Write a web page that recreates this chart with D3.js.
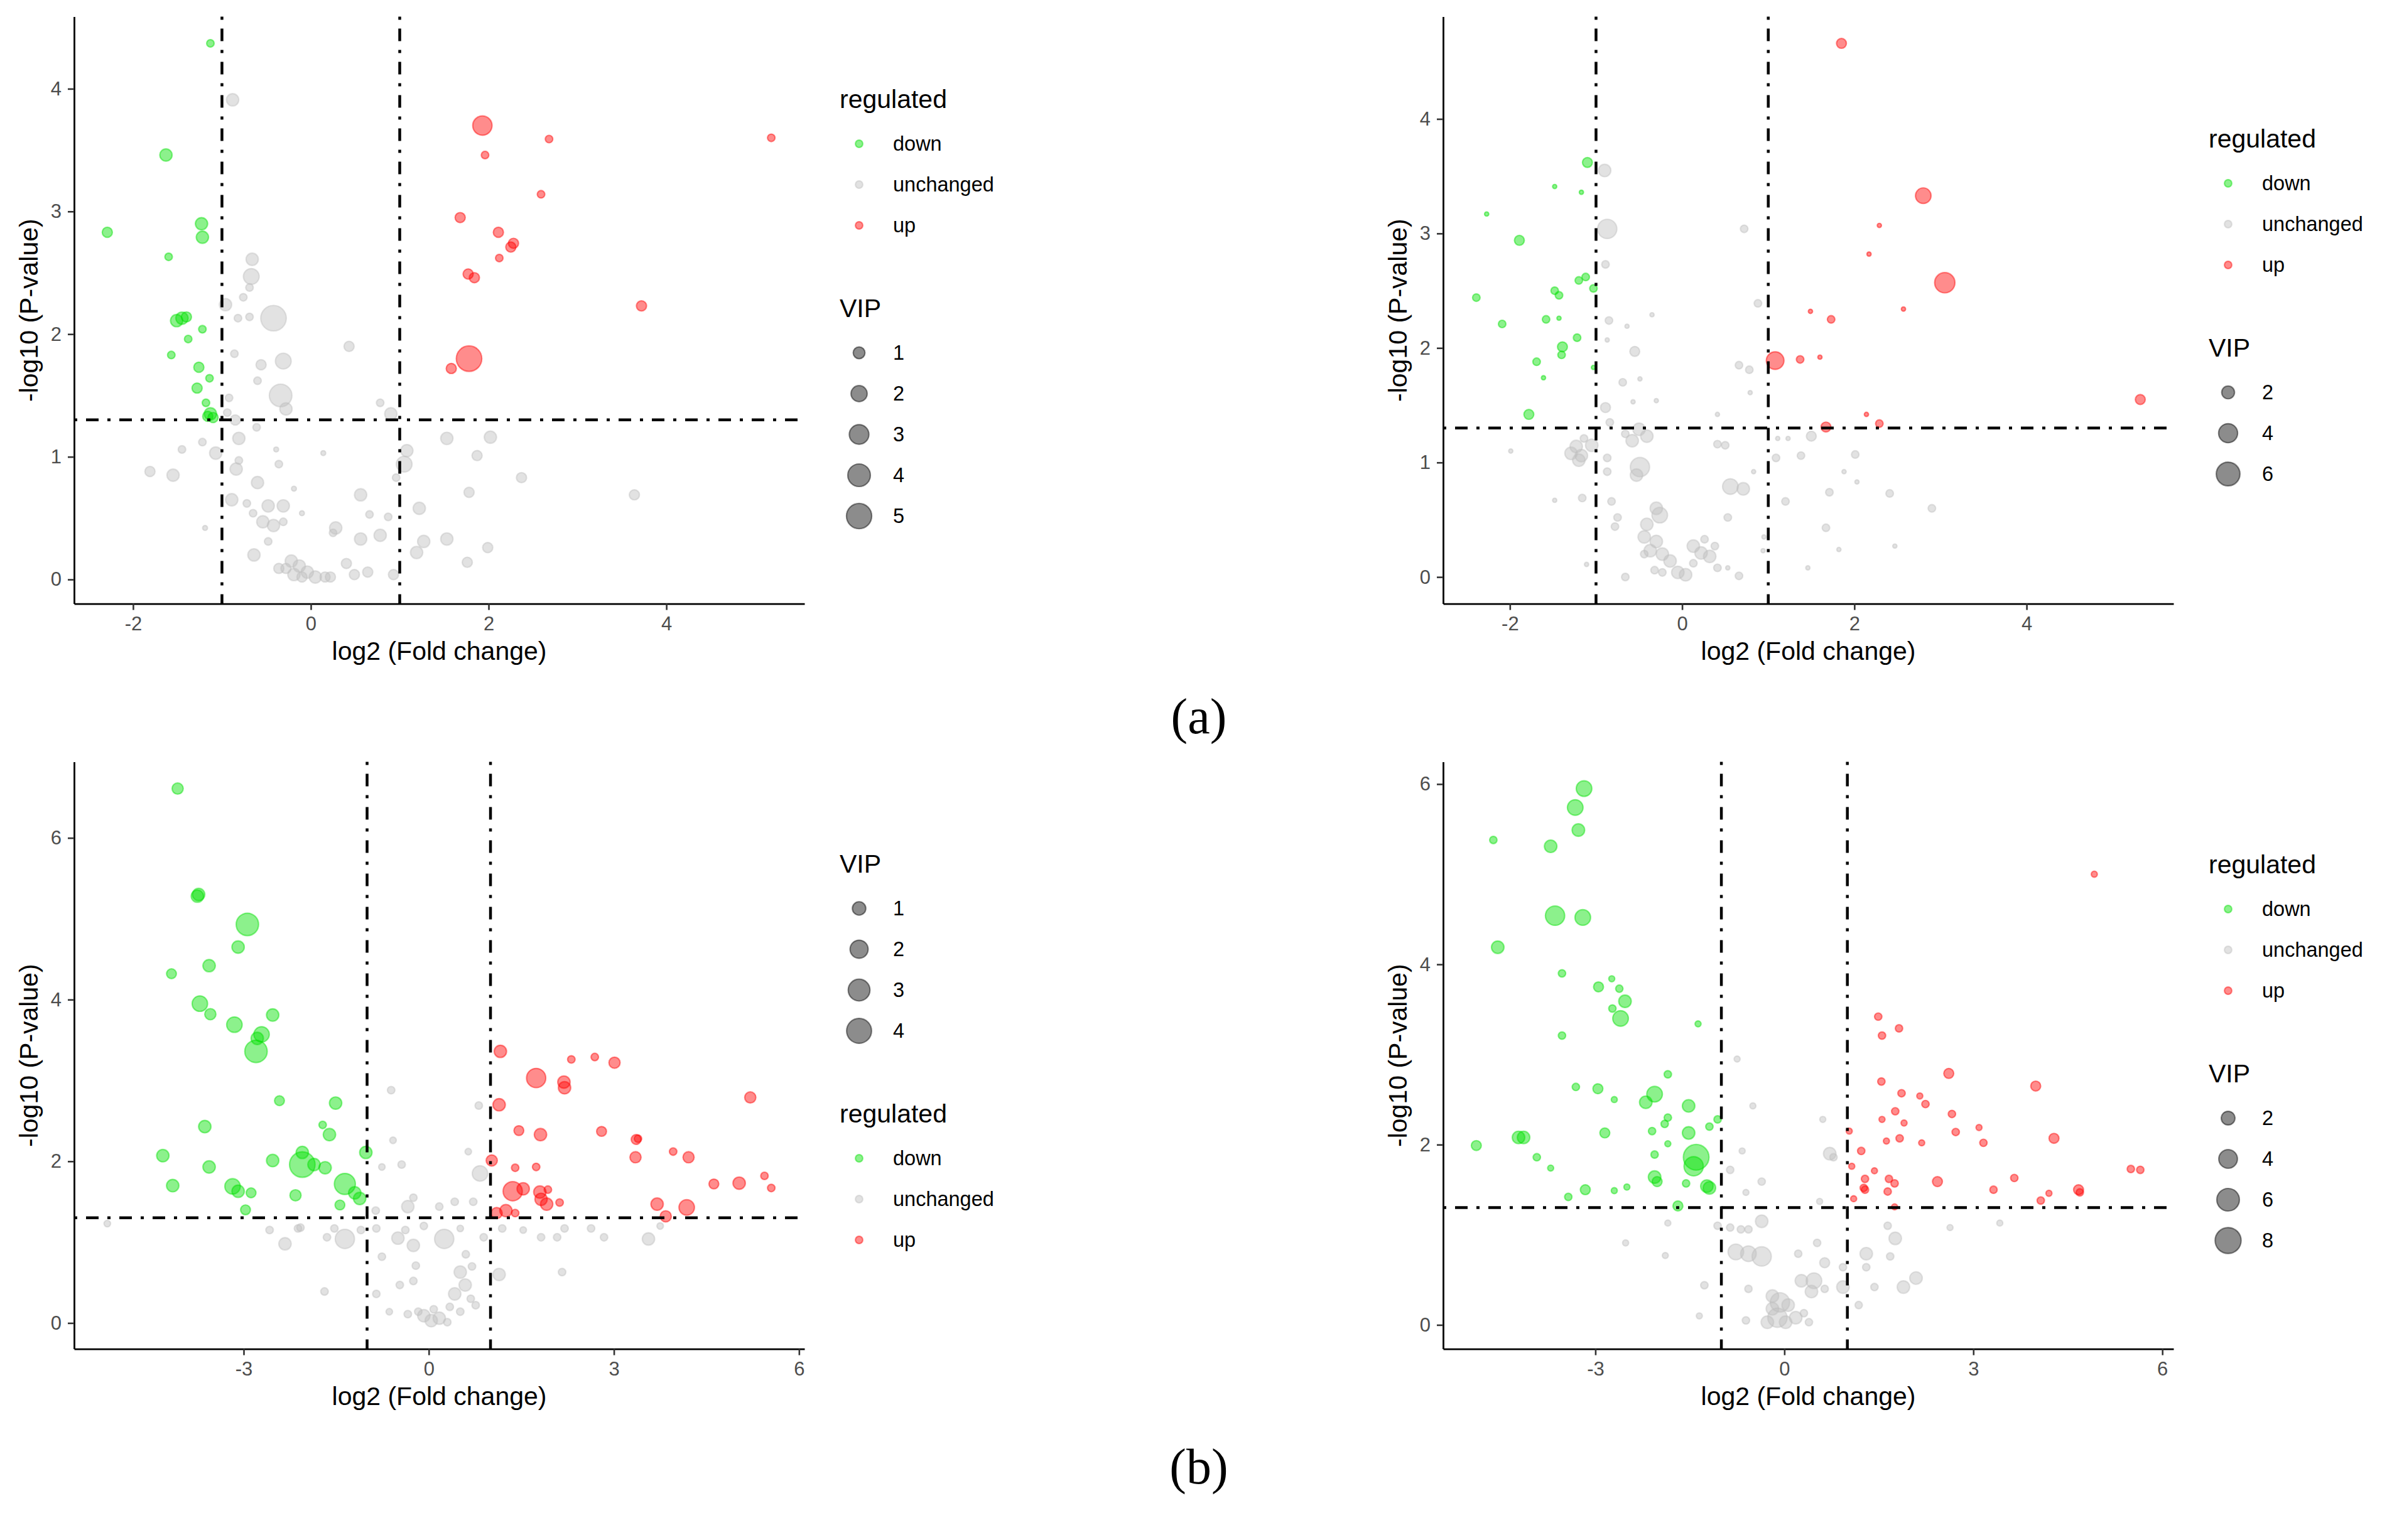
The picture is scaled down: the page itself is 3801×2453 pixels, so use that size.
<!DOCTYPE html>
<html>
<head>
<meta charset="utf-8">
<title>Volcano plots</title>
<script src="https://cdn.jsdelivr.net/npm/d3@7"></script>
<style>
  body { margin: 0; background: #fff; }
  svg text { font-family: "Liberation Sans", Arial, sans-serif; }
</style>
</head>
<body>
<svg id="mainsvg" width="3801" height="2453"></svg>
<script>
// each point: [log2 fold change, -log10 p, VIP]

// (a) left
const a1Down = [[-1.13,4.37,0.3],[-1.63,3.46,1.1],[-2.29,2.83,0.7],[-1.23,2.90,1.1],[-1.22,2.79,1.1],[-1.60,2.63,0.3],
  [-1.45,2.13,1.1],[-1.51,2.11,1.1],[-1.40,2.14,0.7],[-1.22,2.04,0.3],[-1.38,1.96,0.3],[-1.57,1.83,0.3],[-1.26,1.73,0.7],
  [-1.14,1.64,0.3],[-1.28,1.56,0.7],[-1.18,1.44,0.3],[-1.13,1.35,1.1],[-1.16,1.33,0.7],[-1.10,1.32,0.7]];
const a1Up = [[1.93,3.70,2.9],[2.68,3.59,0.3],[5.18,3.60,0.3],[1.96,3.46,0.3],[2.59,3.14,0.3],[1.68,2.95,0.7],[2.11,2.83,0.7],
  [2.28,2.74,0.7],[2.25,2.71,0.7],[2.12,2.62,0.3],[1.77,2.49,0.7],[1.84,2.46,0.7],[3.72,2.23,0.7],[1.78,1.80,5.1],[1.58,1.72,0.7]];
const a1Unchanged = [[-0.88,3.91,1.1],[-0.66,2.61,1.1],[-0.67,2.47,1.9],[-0.69,2.38,0.3],[-0.76,2.30,0.3],[-0.96,2.24,1.1],
  [-0.42,2.13,5.1],[-0.69,2.14,0.3],[-0.82,2.13,0.3],[0.43,1.90,0.7],[-0.31,1.78,1.9],[-0.56,1.75,0.7],[-0.86,1.84,0.3],
  [-0.60,1.62,0.3],[-0.34,1.50,4.0],[-0.28,1.39,1.1],[-0.92,1.48,0.3],[0.78,1.44,0.3],[0.90,1.35,1.1],[-0.61,1.24,0.3],
  [-0.81,1.15,1.1],[-1.22,1.12,0.3],[-1.45,1.06,0.3],[-1.07,1.03,1.1],[-0.81,0.97,0.3],[-0.84,0.90,1.1],[-0.39,1.06,0.0],
  [-0.36,0.94,0.3],[0.14,1.03,0.0],[-1.81,0.88,0.7],[-1.55,0.85,1.1],[1.08,1.05,1.1],[1.05,0.94,1.9],[0.96,0.83,0.3],
  [1.53,1.15,1.1],[2.02,1.16,1.1],[1.87,1.01,0.7],[2.37,0.83,0.7],[3.64,0.69,0.7],[-0.60,0.79,1.1],[-0.19,0.74,0.0],
  [0.56,0.69,1.1],[1.78,0.71,0.7],[-0.89,0.65,1.1],[-0.72,0.62,0.3],[-0.48,0.60,1.1],[-0.31,0.60,1.1],[-0.10,0.54,0.0],
  [-0.65,0.54,0.3],[-0.54,0.47,1.1],[-0.42,0.44,1.1],[-0.31,0.47,0.3],[1.22,0.58,1.1],[1.27,0.31,1.1],[1.19,0.22,1.1],
  [0.28,0.42,1.1],[0.25,0.38,0.3],[0.56,0.33,1.1],[0.78,0.36,1.1],[0.66,0.53,0.3],[0.87,0.51,0.3],[1.53,0.33,1.1],
  [1.99,0.26,0.7],[1.76,0.14,0.7],[-1.19,0.42,0.0],[-0.64,0.20,1.1],[-0.48,0.31,0.3],[-0.36,0.09,0.7],[-0.22,0.15,1.1],
  [-0.13,0.11,1.1],[-0.04,0.06,1.1],[0.05,0.02,1.1],[0.16,0.02,0.7],[-0.19,0.04,1.1],[-0.28,0.09,0.7],[0.40,0.13,0.7],
  [0.49,0.04,0.7],[0.64,0.06,0.7],[0.93,0.04,0.7],[0.22,0.02,0.7],[-0.10,0.02,0.7],[-0.94,1.36,0.3],[-0.85,1.30,0.7]];

// (a) right
const a2Down = [[-1.10,3.62,1.3],[-1.48,3.41,0.4],[-1.17,3.36,0.4],[-2.27,3.17,0.4],[-1.89,2.94,1.3],[-1.12,2.62,0.85],
  [-1.20,2.59,0.85],[-1.03,2.52,0.85],[-1.48,2.50,0.85],[-1.43,2.46,0.85],[-2.39,2.44,0.85],[-1.58,2.25,0.85],[-1.43,2.26,0.4],
  [-2.09,2.21,0.85],[-1.22,2.09,0.85],[-1.39,2.01,1.3],[-1.40,1.94,0.85],[-1.03,1.83,0.4],[-1.69,1.88,0.85],[-1.61,1.74,0.4],
  [-1.78,1.42,1.3]];
const a2Up = [[1.85,4.66,1.3],[2.80,3.33,2.8],[2.29,3.07,0.4],[2.17,2.82,0.4],[3.05,2.57,4.5],[2.57,2.34,0.4],[1.49,2.32,0.4],
  [1.73,2.25,0.85],[1.08,1.89,3.5],[1.37,1.90,0.85],[1.60,1.92,0.4],[5.32,1.55,1.3],[2.14,1.42,0.4],[2.29,1.34,0.85],[1.67,1.31,1.3]];
const a2Unchanged = [[-0.90,3.55,1.9],[-0.87,3.04,4.1],[0.72,3.04,0.85],[-0.89,2.73,0.85],[0.88,2.39,0.85],[-0.35,2.29,0.4],
  [-0.85,2.24,0.85],[-0.64,2.19,0.4],[-0.87,2.07,0.4],[-0.55,1.97,1.3],[0.66,1.85,0.85],[0.78,1.81,0.85],[-0.49,1.73,0.4],
  [-0.69,1.70,0.85],[0.79,1.61,0.4],[-0.57,1.53,0.4],[-0.30,1.54,0.4],[-0.89,1.48,1.3],[0.41,1.42,0.4],[-0.84,1.35,0.85],
  [-0.50,1.29,1.9],[-0.41,1.23,1.9],[-0.58,1.19,1.9],[-0.66,1.25,0.85],[-1.14,1.21,0.85],[-1.23,1.14,1.9],[-1.29,1.08,1.9],
  [-1.17,1.06,1.9],[-1.05,1.15,1.9],[-1.20,1.02,1.9],[-1.99,1.10,0.4],[-0.87,1.04,0.85],[0.41,1.16,0.85],[0.50,1.15,0.85],
  [1.11,1.21,0.4],[1.23,1.21,0.4],[1.50,1.23,1.3],[1.09,1.04,0.85],[1.38,1.06,0.85],[2.01,1.07,0.85],[-0.49,0.96,4.1],
  [-0.53,0.89,1.9],[-0.87,0.92,0.85],[0.83,0.92,0.4],[1.88,0.92,0.4],[0.56,0.79,2.8],[0.71,0.77,1.9],[2.03,0.83,0.4],
  [-1.48,0.67,0.4],[-1.16,0.69,0.85],[-0.82,0.66,0.85],[1.71,0.74,0.85],[2.41,0.73,0.85],[1.20,0.66,0.85],[-0.30,0.60,1.9],
  [-0.26,0.54,2.8],[-0.41,0.46,1.9],[-0.75,0.52,0.85],[2.90,0.60,0.85],[0.53,0.52,0.85],[-0.78,0.44,0.85],[-0.44,0.35,1.9],
  [-0.37,0.23,1.9],[-0.30,0.31,1.9],[-0.44,0.20,0.85],[-0.23,0.20,1.9],[-0.14,0.14,1.9],[-0.05,0.04,1.9],[0.04,0.02,1.9],
  [-0.23,0.04,0.85],[-0.32,0.06,0.85],[0.13,0.27,1.9],[0.22,0.21,1.9],[0.13,0.12,0.85],[0.32,0.18,1.9],[0.38,0.27,0.85],
  [0.26,0.33,0.85],[0.41,0.08,0.85],[0.66,0.01,0.85],[0.53,0.08,0.4],[-0.66,0.00,0.85],[-1.11,0.11,0.4],[1.67,0.43,0.85],
  [1.82,0.24,0.4],[2.47,0.27,0.4],[1.46,0.08,0.4],[0.95,0.35,0.4],[0.94,0.23,0.4]];

// (b) left
const b1Down = [[-4.07,6.61,0.6],[-3.73,5.30,0.8],[-3.75,5.28,0.8],[-2.94,4.93,3.2],[-3.09,4.65,0.8],[-3.56,4.42,0.8],
  [-4.17,4.32,0.4],[-3.71,3.95,1.4],[-3.54,3.82,0.6],[-2.53,3.81,0.8],[-3.15,3.69,1.4],[-2.71,3.57,1.4],[-2.78,3.52,0.8],
  [-2.80,3.36,3.2],[-2.42,2.75,0.4],[-1.51,2.72,0.8],[-3.63,2.43,0.8],[-1.72,2.45,0.1],[-1.61,2.33,0.8],[-1.02,2.11,0.8],
  [-4.31,2.07,0.8],[-2.53,2.01,0.8],[-2.05,2.11,0.8],[-2.05,1.96,4.2],[-1.86,1.96,0.8],[-1.68,1.92,0.8],[-3.56,1.93,0.8],
  [-1.36,1.72,2.8],[-1.20,1.61,0.8],[-1.12,1.54,0.8],[-4.15,1.70,0.8],[-3.18,1.69,1.4],[-3.09,1.63,0.8],[-2.88,1.61,0.4],
  [-2.16,1.58,0.6],[-1.44,1.46,0.4],[-2.97,1.40,0.4]];
const b1Up = [[1.16,3.36,0.8],[2.31,3.26,0.1],[2.69,3.29,0.1],[3.01,3.22,0.6],[1.74,3.03,2.3],[2.19,2.98,0.8],[2.20,2.91,0.8],
  [1.14,2.70,0.8],[5.21,2.79,0.6],[1.46,2.38,0.4],[1.81,2.33,0.8],[2.80,2.37,0.4],[3.36,2.27,0.4],[3.39,2.28,0.1],[3.96,2.12,0.1],
  [3.35,2.05,0.6],[4.21,2.05,0.6],[1.02,2.01,0.6],[1.40,1.92,0.1],[1.74,1.93,0.1],[4.62,1.72,0.4],[5.03,1.73,0.8],[5.44,1.82,0.1],
  [5.55,1.67,0.1],[1.36,1.63,2.3],[1.53,1.66,0.8],[1.80,1.62,0.8],[1.93,1.65,0.1],[1.82,1.53,0.8],[1.91,1.47,0.8],[2.12,1.49,0.1],
  [1.25,1.39,0.8],[1.10,1.36,0.6],[1.40,1.36,0.1],[3.70,1.47,0.8],[4.18,1.43,1.4],[3.84,1.32,0.6]];
const b1Unchanged = [[-0.61,2.88,0.1],[0.81,2.69,0.1],[-0.58,2.26,0.0],[0.64,2.12,0.0],[-0.44,1.96,0.1],[0.83,1.85,1.4],
  [-0.76,1.93,0.0],[-0.25,1.55,0.1],[-0.34,1.44,0.8],[0.17,1.44,0.1],[0.42,1.50,0.1],[0.72,1.50,0.1],[-0.86,1.39,0.1],
  [-2.58,1.15,0.1],[-2.33,0.98,0.8],[-2.08,1.18,0.1],[-1.65,1.06,0.1],[-1.36,1.04,2.3],[-1.10,1.15,0.1],[-0.85,1.17,0.1],
  [-0.38,1.15,0.1],[-0.25,0.96,0.8],[-0.08,1.20,0.1],[0.25,1.04,2.3],[0.51,1.17,0.0],[0.89,1.06,0.1],[1.19,1.17,0.1],
  [1.53,1.15,0.0],[1.82,1.06,0.1],[2.08,1.06,0.1],[2.20,1.17,0.1],[2.63,1.17,0.1],[2.84,1.06,0.1],[3.56,1.04,0.8],
  [3.75,1.20,0.0],[-5.21,1.23,0.0],[-2.12,1.17,0.1],[-1.53,1.17,0.1],[2.16,0.63,0.1],[1.14,0.60,0.8],[0.51,0.63,0.8],
  [0.59,0.47,0.8],[0.42,0.36,0.8],[0.68,0.30,0.1],[0.76,0.22,0.1],[0.34,0.20,0.1],[-0.25,0.52,0.1],[-0.47,0.47,0.1],
  [-0.85,0.36,0.1],[-1.69,0.39,0.1],[-0.21,0.71,0.1],[-0.76,0.82,0.1],[-0.17,0.14,0.1],[-0.08,0.09,0.8],[0.04,0.03,0.8],
  [0.17,0.06,0.8],[0.30,0.01,0.1],[-0.34,0.11,0.1],[0.08,0.17,0.1],[0.51,0.14,0.1],[-0.64,0.14,0.0],[0.60,0.85,0.1],
  [0.70,0.70,0.1],[-0.50,1.05,0.8]];

// (b) right
const b2Down = [[-3.18,5.95,2.7],[-3.32,5.74,2.7],[-3.27,5.49,1.6],[-4.62,5.38,0.25],[-3.71,5.31,1.6],[-3.64,4.54,4.3],
  [-3.20,4.52,2.7],[-4.55,4.19,1.6],[-3.53,3.90,0.25],[-2.95,3.75,0.85],[-2.74,3.84,0.0],[-2.62,3.73,0.25],[-2.53,3.59,1.6],
  [-2.73,3.51,0.25],[-2.60,3.40,2.7],[-1.37,3.34,0.0],[-3.53,3.21,0.25],[-1.85,2.78,0.25],[-3.31,2.64,0.25],[-2.96,2.62,0.85],
  [-2.06,2.56,2.7],[-2.20,2.47,1.6],[-2.70,2.50,0.0],[-1.52,2.43,1.6],[-1.85,2.30,0.25],[-1.06,2.28,0.25],[-1.90,2.23,0.25],
  [-1.19,2.20,0.25],[-2.10,2.15,0.25],[-2.85,2.13,0.85],[-1.52,2.13,1.6],[-4.22,2.08,1.6],[-4.14,2.08,1.6],[-4.89,1.99,0.85],
  [-1.85,2.01,0.0],[-1.40,1.86,7.8],[-1.44,1.76,4.3],[-3.93,1.86,0.25],[-2.06,1.89,0.25],[-3.71,1.74,0.0],[-2.06,1.64,1.6],
  [-2.02,1.59,0.85],[-1.56,1.57,0.25],[-1.23,1.54,1.6],[-1.19,1.52,1.6],[-3.16,1.50,0.85],[-2.70,1.49,0.0],[-2.50,1.53,0.0],
  [-3.43,1.42,0.25],[-1.69,1.32,0.85]];
const b2Up = [[4.92,5.00,0.0],[1.49,3.42,0.25],[1.55,3.21,0.25],[1.82,3.29,0.25],[2.61,2.79,0.85],[1.54,2.70,0.25],
  [3.99,2.65,0.85],[1.86,2.57,0.25],[2.15,2.54,0.0],[2.24,2.45,0.25],[1.76,2.37,0.25],[2.66,2.34,0.25],[1.55,2.28,0.0],
  [1.90,2.24,0.0],[1.03,2.15,0.0],[2.72,2.14,0.25],[3.09,2.19,0.0],[1.83,2.07,0.25],[1.62,2.04,0.0],[2.18,2.02,0.0],
  [3.16,2.02,0.25],[4.28,2.07,0.85],[1.22,1.93,0.25],[1.07,1.76,0.0],[1.43,1.71,0.0],[5.50,1.73,0.25],[5.65,1.72,0.25],
  [1.28,1.62,0.25],[1.66,1.62,0.25],[1.75,1.57,0.25],[2.43,1.59,0.85],[3.65,1.63,0.25],[1.26,1.52,0.25],[1.28,1.50,0.25],
  [1.64,1.48,0.25],[3.32,1.50,0.25],[4.67,1.50,0.85],[4.69,1.47,0.25],[4.20,1.46,0.0],[4.07,1.38,0.25],[1.10,1.40,0.0],
  [1.75,1.31,0.0]];
const b2Unchanged = [[-0.75,2.95,0.0],[-0.50,2.43,0.0],[0.61,2.28,0.0],[-0.67,1.93,0.0],[0.72,1.90,1.6],[0.78,1.86,0.25],
  [-0.86,1.72,0.25],[-0.36,1.59,0.25],[-0.61,1.47,0.0],[0.56,1.37,0.0],[2.63,1.08,0.0],[3.42,1.13,0.0],[-2.52,0.91,0.0],
  [-1.89,0.77,0.0],[-1.85,1.13,0.0],[-1.06,1.10,0.25],[-0.86,1.08,0.25],[-0.69,1.06,0.25],[-0.57,1.06,0.25],[-0.36,1.15,1.6],
  [1.64,1.10,0.25],[1.76,0.96,1.6],[-0.77,0.81,2.7],[-0.57,0.79,2.7],[-0.36,0.76,4.3],[0.22,0.79,0.25],[0.52,0.91,0.25],
  [1.30,0.79,1.6],[1.68,0.76,0.25],[0.64,0.69,0.85],[0.93,0.64,0.25],[1.30,0.64,0.25],[0.27,0.49,1.6],[0.47,0.49,2.7],
  [0.43,0.37,1.6],[0.64,0.40,0.25],[2.09,0.52,1.6],[1.89,0.42,1.6],[1.43,0.42,0.25],[0.93,0.42,1.6],[-1.27,0.44,0.25],
  [-0.57,0.40,0.25],[-0.19,0.32,1.6],[-0.07,0.25,4.3],[-0.19,0.18,1.6],[0.06,0.22,1.6],[-0.11,0.08,4.3],[0.02,0.03,1.6],
  [0.18,0.08,1.6],[0.31,0.13,0.25],[0.39,0.03,0.25],[-0.27,0.03,1.6],[1.18,0.22,0.25],[-1.35,0.10,0.0],[-0.61,0.05,0.25]];

// tick labels and legend breaks
const xTicksA = [-2, 0, 2, 4];
const yTicksA = [0, 1, 2, 3, 4];
const xTicksB = [-3, 0, 3, 6];
const yTicksB = [0, 2, 4, 6];
const vipA1 = [1, 2, 3, 4, 5];
const vipA2 = [2, 4, 6];
const vipB1 = [1, 2, 3, 4];
const vipB2 = [2, 4, 6, 8];
const regulated = ['down', 'unchanged', 'up'];
const captions = ['(a)', '(b)'];

const regColor = { down: '#00e000', unchanged: '#bebebe', up: '#ff0000' };
const ALPHA = 0.45;
const FC_CUT = 1, P_CUT = -Math.log10(0.05);

const svg = d3.select('#mainsvg');
svg.append('rect').attr('width', 3801).attr('height', 2453).attr('fill', '#fff');

const panels = [
  { down: a1Down, unchanged: a1Unchanged, up: a1Up, xt: xTicksA, yt: yTicksA, vip: vipA1,
    left: 118, top: 26.6, legendTop: 172, order: ['regulated', 'VIP'], area: [[0, 5.2], [25, 467]] },
  { down: a2Down, unchanged: a2Unchanged, up: a2Up, xt: xTicksA, yt: yTicksA, vip: vipA2,
    left: 2298, top: 26.6, legendTop: 235, order: ['regulated', 'VIP'], area: [[0.4, 6], [20, 400]] },
  { down: b1Down, unchanged: b1Unchanged, up: b1Up, xt: xTicksB, yt: yTicksB, vip: vipB1,
    left: 118, top: 1213.6, legendTop: 1390, order: ['VIP', 'regulated'], area: [[0, 4.5], [40, 490]] },
  { down: b2Down, unchanged: b2Unchanged, up: b2Up, xt: xTicksB, yt: yTicksB, vip: vipB2,
    left: 2298, top: 1213.6, legendTop: 1391, order: ['regulated', 'VIP'], area: [[0, 9], [35, 530]] }
];
const PW = 1163, PH = 935;

// ggplot-like 5% padding
function expand(ext) {
  const d = (ext[1] - ext[0]) * 0.05;
  return [ext[0] - d, ext[1] + d];
}

// plain hyphen minus, no decimals
const fmt = d => String(d);

function dot(sel, color) {
  return sel.attr('fill', color).attr('fill-opacity', ALPHA)
    .attr('stroke', color).attr('stroke-opacity', ALPHA).attr('stroke-width', 2.2);
}

function drawPanel(p) {
  const all = p.unchanged.concat(p.down, p.up);
  const x = d3.scaleLinear().domain(expand(d3.extent(all, d => d[0]))).range([p.left, p.left + PW]);
  const y = d3.scaleLinear().domain(expand(d3.extent(all, d => d[1]))).range([p.top + PH, p.top]);
  const area = d3.scaleLinear().domain(p.area[0]).range(p.area[1]).clamp(true);
  const rad = v => Math.sqrt(area(v));

  const g = svg.append('g');

  // points
  const layers = [['unchanged', p.unchanged], ['down', p.down], ['up', p.up]];
  layers.forEach(([key, pts]) => {
    g.append('g').selectAll('circle').data(pts).join('circle')
      .attr('cx', d => x(d[0]))
      .attr('cy', d => y(d[1]))
      .attr('r', d => rad(d[2]) - 1.1)
      .call(dot, regColor[key]);
  });

  // thresholds
  const dash = '5,14,20,14';
  [-FC_CUT, FC_CUT].forEach(v => {
    g.append('line').attr('x1', x(v)).attr('x2', x(v)).attr('y1', p.top).attr('y2', p.top + PH)
      .attr('stroke', '#000').attr('stroke-width', 4.5).attr('stroke-dasharray', dash);
  });
  g.append('line').attr('x1', p.left).attr('x2', p.left + PW).attr('y1', y(P_CUT)).attr('y2', y(P_CUT))
    .attr('stroke', '#000').attr('stroke-width', 4.5).attr('stroke-dasharray', dash);

  // axes
  const xAxis = g.append('g').attr('transform', `translate(0,${p.top + PH})`)
    .call(d3.axisBottom(x).tickValues(p.xt).tickFormat(fmt).tickSize(10).tickSizeOuter(0).tickPadding(10));
  const yAxis = g.append('g').attr('transform', `translate(${p.left},0)`)
    .call(d3.axisLeft(y).tickValues(p.yt).tickFormat(fmt).tickSize(10).tickSizeOuter(0).tickPadding(10));
  [xAxis, yAxis].forEach(ax => {
    ax.attr('font-family', null).attr('font-size', null);
    ax.select('.domain').attr('stroke', '#000').attr('stroke-width', 2.8);
    ax.selectAll('.tick line').attr('stroke', '#333').attr('stroke-width', 2.6);
    ax.selectAll('.tick text').attr('fill', '#4d4d4d').style('font-size', '31px');
  });

  g.append('text').attr('x', p.left + PW / 2).attr('y', p.top + PH + 89)
    .attr('text-anchor', 'middle').style('font-size', '41px').text('log2 (Fold change)');
  g.append('text').attr('transform', `translate(${p.left - 58},${p.top + PH / 2}) rotate(-90)`)
    .attr('text-anchor', 'middle').style('font-size', '41px').text('-log10 (P-value)');

  // legend
  const lx = p.left + PW + 56;
  let ly = p.legendTop;
  const lg = svg.append('g');
  p.order.forEach((block, bi) => {
    if (bi > 0) ly += 146;
    lg.append('text').attr('x', lx).attr('y', ly).style('font-size', '41px').text(block);
    let ky = ly + 57;
    const items = block === 'VIP'
      ? p.vip.map(v => ({ label: v, r: rad(v), c: '#000' }))
      : regulated.map(k => ({ label: k, r: 7, c: regColor[k] }));
    items.forEach((it, i) => {
      if (i > 0) ky += 65;
      lg.append('circle').attr('cx', lx + 31).attr('cy', ky).attr('r', it.r - 1.1).call(dot, it.c);
      lg.append('text').attr('x', lx + 85).attr('y', ky).attr('dy', '0.35em')
        .style('font-size', '32.5px').text(it.label);
    });
    ly = ky;
  });
}

panels.forEach(drawPanel);

// sub-figure captions
svg.selectAll('text.cap').data(captions).join('text')
  .attr('class', 'cap')
  .attr('x', 1909)
  .attr('y', (d, i) => 1168 + i * 1195)
  .attr('text-anchor', 'middle')
  .style('font-family', '"Liberation Serif", "Times New Roman", serif')
  .style('font-size', '80px')
  .text(d => d);
</script>
</body>
</html>
